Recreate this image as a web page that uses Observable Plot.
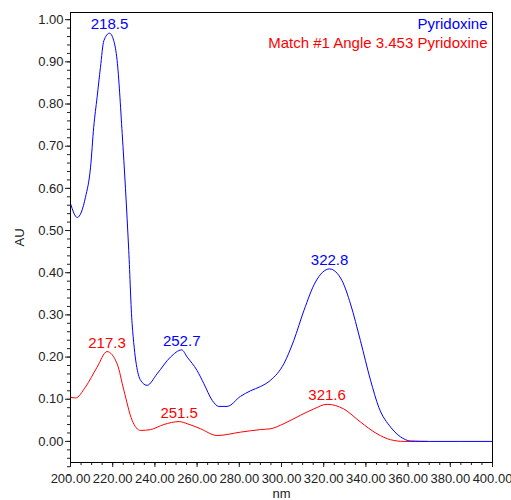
<!DOCTYPE html>
<html><head><meta charset="utf-8">
<script src="https://cdn.jsdelivr.net/npm/d3@7"></script>
<script src="https://cdn.jsdelivr.net/npm/@observablehq/plot@0.6"></script>
<style>body{margin:0;background:#fff}</style>
</head><body><div id="chart"></div>
<script>
const blueNm = [200, 203.2, 207.1, 209.5, 211, 212.6, 214.2, 215.8, 218.5, 220.5, 222.1, 224.5, 227.6, 229.2, 233.2, 236.3, 241, 247.4, 252.7, 255.3, 260, 263.2, 267.2, 270.3, 274.2, 280.6, 285.3, 290, 294.8, 301.1, 305.8, 310.6, 316.1, 322.8, 328.7, 332.7, 337.4, 342.2, 346.1, 351.7, 358, 361.1, 370, 400];
const blueAU = [0.564, 0.531, 0.579, 0.65, 0.745, 0.816, 0.887, 0.95, 0.968, 0.95, 0.903, 0.73, 0.453, 0.279, 0.145, 0.133, 0.16, 0.2, 0.217, 0.2, 0.168, 0.137, 0.097, 0.083, 0.083, 0.107, 0.12, 0.13, 0.145, 0.184, 0.239, 0.31, 0.378, 0.409, 0.381, 0.326, 0.239, 0.145, 0.081, 0.034, 0.006, 0.001, 0, 0];
const redNm = [200, 202.4, 207.1, 212.6, 217.3, 222.1, 225.3, 229.2, 233.2, 237.9, 244.2, 251.5, 255.3, 261.6, 269.5, 280.6, 290, 294.8, 301.1, 309, 315.3, 321.6, 329.5, 337.4, 345.3, 351.7, 358, 369];
const redAU = [0.105, 0.103, 0.129, 0.176, 0.213, 0.184, 0.121, 0.05, 0.026, 0.028, 0.04, 0.047, 0.042, 0.03, 0.014, 0.022, 0.028, 0.03, 0.042, 0.062, 0.077, 0.088, 0.077, 0.046, 0.018, 0.004, 0.0, 0.0];
const bluePeakNm = [218.5, 252.7, 322.8];
const bluePeakAU = [0.968, 0.217, 0.409];
const redPeakNm = [217.3, 251.5, 321.6];
const redPeakAU = [0.213, 0.047, 0.088];
const legendLabels = ["Pyridoxine", "Match #1 Angle 3.453 Pyridoxine"];
const xTicks = [200, 220, 240, 260, 280, 300, 320, 340, 360, 380, 400];
const yTicks = [0, 0.1, 0.2, 0.3, 0.4, 0.5, 0.6, 0.7, 0.8, 0.9, 1.0];

const blue = blueNm.map((x, i) => ({x, y: blueAU[i]}));
const red = redNm.map((x, i) => ({x, y: redAU[i]}));
const bluePk = bluePeakNm.map((x, i) => ({x, y: bluePeakAU[i]}));
const redPk = redPeakNm.map((x, i) => ({x, y: redPeakAU[i]}));
const xMinor = d3.range(200, 400.001, 5);
const yMinor = d3.range(-4, 51).map(d => d * 0.02);

const chart = Plot.plot({
  width: 511, height: 500,
  marginLeft: 70, marginRight: 19, marginTop: 12, marginBottom: 38,
  style: {fontFamily: "'Liberation Sans', Arial, sans-serif", fontSize: "13px", color: "#222", background: "#fff"},
  x: {domain: [200, 400]},
  y: {domain: [-0.05, 1.017]},
  marks: [
    Plot.axisY(yMinor, {tickSize: 3, tickFormat: () => "", label: null}),
    Plot.axisY(yTicks, {tickSize: 5, tickFormat: ".2f", tickPadding: 2, label: "AU", labelArrow: "none", labelAnchor: "center", labelOffset: 56, fontSize: 13}),
    Plot.axisX(xMinor, {tickSize: 3, tickFormat: () => "", label: null}),
    Plot.axisX(xTicks, {tickSize: 5, tickFormat: ".2f", tickPadding: 6, label: "nm", labelArrow: "none", labelAnchor: "center", labelOffset: 35, fontSize: 13}),
    Plot.line(red, {x: "x", y: "y", stroke: "#ff0000", strokeWidth: 1, curve: "monotone-x"}),
    Plot.line(blue, {x: "x", y: "y", stroke: "#0000ff", strokeWidth: 1, curve: "monotone-x"}),
    Plot.text(bluePk, {x: "x", y: "y", text: d => d3.format(".1f")(d.x), fill: "#0000ff", fontSize: 15, lineAnchor: "bottom", dy: -4}),
    Plot.text(redPk, {x: "x", y: "y", text: d => d3.format(".1f")(d.x), fill: "#ff0000", fontSize: 15, lineAnchor: "bottom", dy: -4}),
    Plot.text([legendLabels[0]], {frameAnchor: "top-right", dx: -5, dy: 6, lineAnchor: "top", fill: "#0000ff", fontSize: 15}),
    Plot.text([legendLabels[1]], {frameAnchor: "top-right", dx: -5, dy: 25, lineAnchor: "top", fill: "#ff0000", fontSize: 15}),
    Plot.frame({stroke: "#000"})
  ]
});
document.getElementById("chart").appendChild(chart);
</script>
</body></html>
